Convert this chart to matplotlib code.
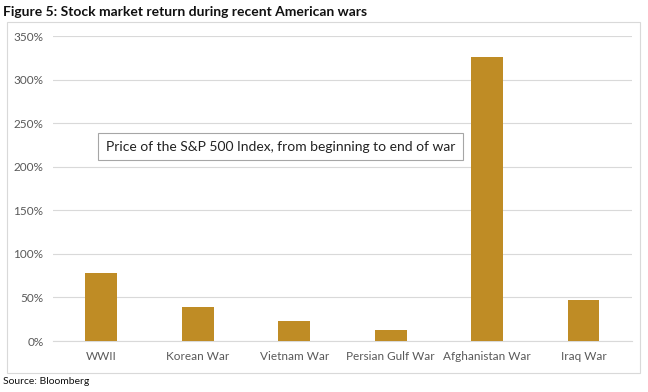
import numpy as np
import matplotlib.pyplot as plt
from matplotlib.patches import Rectangle

wars = ['WWII', 'Korean War', 'Vietnam War', 'Persian Gulf War', 'Afghanistan War', 'Iraq War']
returns = [78, 39, 23, 13, 326, 47]
yticks = [0, 50, 100, 150, 200, 250, 300, 350]

plt.rcParams['font.family'] = ['Lato', 'DejaVu Sans']

fig = plt.figure(figsize=(6.48, 3.92), dpi=100)
ax = fig.add_axes([0.082, 0.130, 0.893, 0.778])

x = np.arange(len(wars))
ax.bar(x, returns, width=0.33, color='#BF8C25', zorder=3)

ax.set_ylim(0, 350)
ax.set_xlim(-0.5, len(wars) - 0.5)
ax.set_yticks(yticks)
ax.set_yticklabels([f'{v}%' for v in yticks], fontsize=8.5, color='#595959')
ax.set_xticks(x)
ax.set_xticklabels(wars, fontsize=8.5, color='#595959')
ax.tick_params(length=0, pad=7)
ax.grid(axis='y', color='#D9D9D9', linewidth=0.8, zorder=0)
for s in ['top', 'right', 'left']:
    ax.spines[s].set_visible(False)
ax.spines['bottom'].set_color('#D9D9D9')

# annotation box
ax.text(1.86, 223, 'Price of the S&P 500 Index, from beginning to end of war',
        ha='center', va='center', fontsize=10, color='#222222',
        bbox=dict(boxstyle='square,pad=0.55', fc='white', ec='#A6A6A6', lw=0.8), zorder=5)

# outer chart frame
fig.patches.append(Rectangle((7 / 648, 1 - 373 / 392), 633 / 648, 351 / 392,
                             transform=fig.transFigure, fill=False, ec='#D9D9D9', lw=0.8))

fig.text(3 / 648, 1 - 12 / 392, 'Figure 5: Stock market return during recent American wars',
         fontsize=10, fontweight='bold', va='center', ha='left', color='#111111')
fig.text(3 / 648, 1 - 382 / 392, 'Source: Bloomberg', fontsize=7.5, va='center', ha='left',
         color='#111111')

plt.savefig('out.png', dpi=100)
